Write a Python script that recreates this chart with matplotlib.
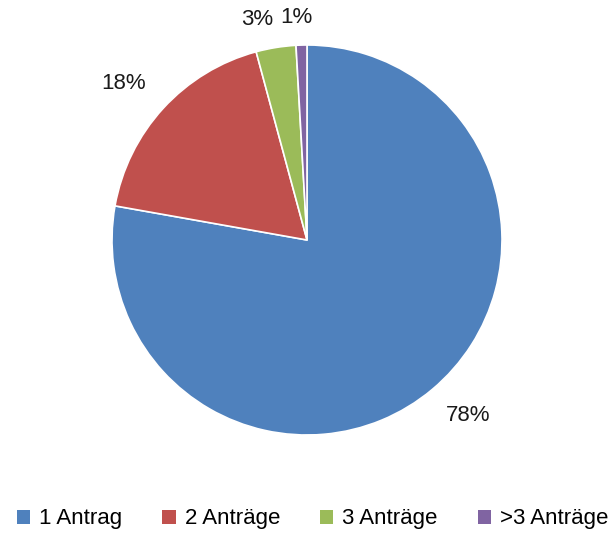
import numpy as np
import matplotlib
matplotlib.use("Agg")
import matplotlib.pyplot as plt
from matplotlib.patches import Patch

categories = ['1 Antrag', '2 Anträge', '3 Anträge', '>3 Anträge']
shares = [77.8, 18.0, 3.3, 0.9]
colors = ['#4F81BD', '#C0504D', '#9BBB59', '#8064A2']
label_dist = [1.22, 1.24, 1.16, 1.14]
label_nudge = [2.6, 2.0, 3.5, 1.0]  # degrees, to keep the small labels apart

plt.rcParams['font.family'] = ['Liberation Sans', 'DejaVu Sans']

fig = plt.figure(figsize=(6.13, 5.35), dpi=100)
ax = fig.add_axes([112 / 613, 100 / 535, 390 / 613, 390 / 535])

wedges, texts, autotexts = ax.pie(shares, colors=colors, startangle=90, counterclock=False,
                                  autopct=lambda p: f'{p:.0f}%', pctdistance=1.2,
                                  wedgeprops=dict(edgecolor='white', linewidth=1.2),
                                  textprops=dict(fontsize=16, color='#1a1a1a'))
for w, t, d, n in zip(wedges, autotexts, label_dist, label_nudge):
    ang = np.deg2rad((w.theta1 + w.theta2) / 2 + n)
    t.set_position((d * np.cos(ang), d * np.sin(ang)))

ax.set_xlim(-1, 1)
ax.set_ylim(-1, 1)
ax.axis('off')

handles = [Patch(facecolor=c, label=l) for c, l in zip(colors, categories)]
fig.legend(handles=handles, loc='center', bbox_to_anchor=(0.51, 0.03), ncol=4,
           frameon=False, fontsize=16, handlelength=0.6, handleheight=0.6,
           handletextpad=0.4, columnspacing=1.8)

fig.savefig('out.png', dpi=100)
